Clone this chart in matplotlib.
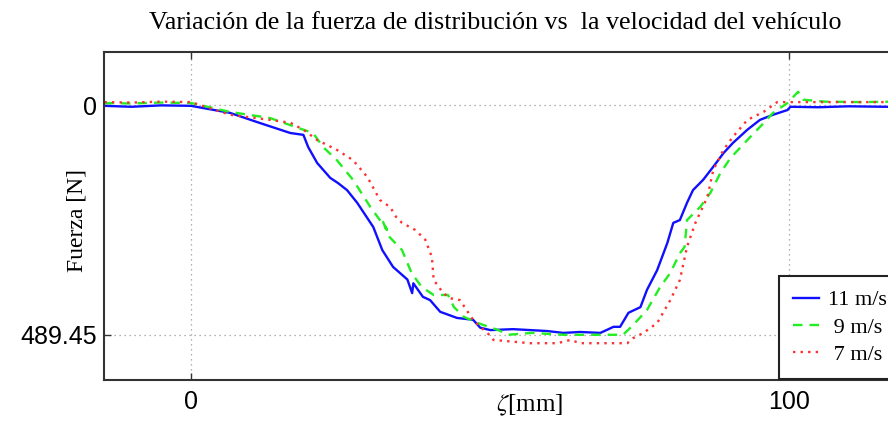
import numpy as np
import matplotlib.pyplot as plt

plt.rcParams['mathtext.fontset'] = 'stix'

# readings (x in mm, force in N, axis drawn downward)
x_11 = [-14.5, -10, -5, 0, 6.5, 11.6, 16.6, 18.8, 19.6, 21.1, 23.3, 24.6, 26.1, 27.8,
        30.5, 32.0, 33.8, 36.2, 37.0, 37.2, 38.8, 40.0, 41.7, 44.5, 47.2, 48.4, 50.1,
        53.9, 59.6, 62.3, 65.1, 68.5, 70.7, 71.8, 73.2, 75.2, 76.3, 78.0, 79.7, 80.7,
        81.8, 83.0, 84.0, 85.7, 87.4, 89.1, 90.7, 93.1, 95.2, 97.4, 99.8, 100.3, 105,
        110, 116, 125]
f_11 = [1, 3, 0, 1, 16, 38, 59, 63, 89, 123, 155, 166, 181, 208,
        260, 309, 345, 372, 401, 380, 409, 416, 441, 454, 458, 475, 480,
        478, 482, 486, 484, 486, 473, 473, 443, 431, 394, 352, 294, 251,
        245, 208, 181, 159, 131, 102, 80, 52, 31, 20, 10, 3, 4,
        2, 3, 3]

x_9 = [-14.5, -10, -5, 0, 6.5, 13.2, 18.8, 20.4, 22.1, 24.4, 27.1, 30.0, 32.8, 32.0,
       33.2, 35.3, 36.9, 38.6, 40.6, 43.0, 44.0, 45.7, 48.0, 51.4, 53.1, 57.0,
       62.3, 68.0, 72.3, 74.0, 76.3, 78.5, 80.2, 81.8, 82.6, 83.0, 85.2, 86.9,
       88.6, 90.3, 93.1, 95.8, 97.4, 99.8, 101.6, 102.5, 106, 112, 118, 125]
f_9 = [-5, -4, -6, -5, 14, 27, 52, 59, 89, 117, 159, 217, 266, 245,
       281, 309, 358, 388, 405, 405, 431, 452, 465, 480, 490, 486,
       490, 490, 490, 469, 437, 388, 358, 316, 302, 245, 217, 187,
       144, 112, 74, 38, 16, -5, -29, -12, -8, -7, -8, -7]

x_7 = [-14.5, -10, -5, 0, 6.5, 13.2, 16.6, 18.8, 21.1, 24.4, 27.1, 29.5, 31.6,
       33.3, 34.3, 35.3, 37.5, 39.2, 40.3, 40.6, 42.2, 43.4, 45.0, 47.2, 48.4,
       49.6, 50.6, 56.7, 61.3, 63.5, 65.1, 70.7, 73.0, 74.0, 75.7, 78.0, 80.2,
       81.8, 83.0, 84.4, 86.4, 87.4, 89.1, 90.7, 93.1, 95.8, 98.1, 105, 112, 125]
f_7 = [-7, -6, -8, -7, 20, 31, 37, 52, 74, 95, 117, 153, 202,
       217, 238, 251, 266, 287, 324, 373, 401, 412, 416, 458, 473,
       486, 501, 508, 508, 501, 508, 508, 508, 497, 486, 465, 416,
       373, 302, 251, 196, 138, 95, 67, 31, 14, -7, -7, -7, -7]

fig = plt.figure(figsize=(8.88, 4.25), dpi=100)
ax = fig.add_axes([104 / 888, 45 / 425, 834 / 888, 328 / 425])

ax.plot(x_11, f_11, color='#1010ff', lw=1.7, label='11 m/s')
ax.plot(x_9, f_9, color='#22ee22', lw=1.7, ls=(0, (4, 3)), label=' 9 m/s')
ax.plot(x_7, f_7, color='#ff3030', lw=1.7, ls=(0, (1, 2.2)), label=' 7 m/s')

ax.set_xlim(-14.57, 125)
ax.set_ylim(586.6, -114)
ax.set_xticks([0, 100])
ax.set_yticks([0, 489.45])
ax.set_yticklabels(['0', '489.45'])
ax.tick_params(direction='in', length=5, width=1, labelsize=18, top=True,
               colors='#333333', labelcolor='black')
ax.tick_params(axis='x', pad=7)
ax.tick_params(axis='y', pad=5)
for lab in ax.get_xticklabels() + ax.get_yticklabels():
    lab.set_fontfamily('Liberation Sans')
ax.grid(True, ls=(0, (1, 3)), color='#999999', lw=0.9)
for s in ax.spines.values():
    s.set_linewidth(1.5)
    s.set_color('#333333')

ax.set_xlabel(r'$\zeta$[mm]', family='Liberation Serif', fontsize=18)
ax.xaxis.set_label_coords(530 / 888, 1 - 393 / 425, transform=fig.transFigure)
ax.set_ylabel('Fuerza [N]', family='Liberation Serif', fontsize=17)
ax.yaxis.set_label_coords(87 / 888, 1 - 221 / 425, transform=fig.transFigure)
fig.text(495 / 888, 1 - 23 / 425,
         'Variación de la fuerza de distribución vs  la velocidad del vehículo',
         family='Liberation Serif', fontsize=18.7, ha='center', va='center')

leg = ax.legend(loc='upper left', bbox_to_anchor=(779 / 888, 1 - 276 / 425),
                bbox_transform=fig.transFigure, prop={'family': 'Liberation Serif', 'size': 16},
                fancybox=False, framealpha=1, edgecolor='#222222', handlelength=1.2,
                handletextpad=0.4, borderaxespad=0, borderpad=0.62, labelspacing=0.3)
leg.get_frame().set_linewidth(1.5)

fig.savefig('out.png', dpi=100)
